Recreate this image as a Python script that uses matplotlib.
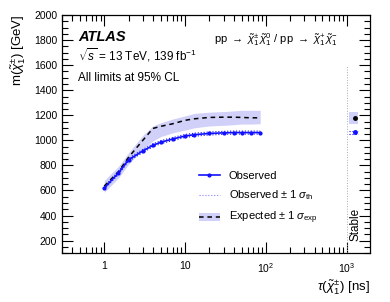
import numpy as np
import matplotlib
matplotlib.use('Agg')
import matplotlib.pyplot as plt
from matplotlib.lines import Line2D
from matplotlib.patches import Patch
from matplotlib.ticker import FixedLocator, FixedFormatter, LogLocator, MultipleLocator, NullFormatter

plt.rcParams['font.family'] = ['Liberation Sans', 'DejaVu Sans']
plt.rcParams['mathtext.fontset'] = 'custom'
plt.rcParams['mathtext.rm'] = 'Liberation Sans'
plt.rcParams['mathtext.it'] = 'Liberation Sans:italic'
plt.rcParams['mathtext.bf'] = 'Liberation Sans:bold'

# chargino lifetime [ns] and mass limits [GeV]
tau = [1, 1.5, 2, 3, 4, 5, 7, 10, 13, 20, 30, 40, 50, 65, 85]
observed = [620, 740, 845, 915, 960, 985, 1010, 1035, 1045, 1055, 1060, 1062, 1062, 1062, 1062]
expected = [635, 750, 865, 1000, 1095, 1112, 1132, 1160, 1172, 1183, 1185, 1185, 1183, 1180, 1180]
exp_up = [680, 792, 900, 1040, 1115, 1140, 1170, 1195, 1215, 1225, 1230, 1235, 1240, 1240, 1240]
exp_down = [585, 700, 810, 930, 995, 1030, 1060, 1082, 1100, 1115, 1120, 1125, 1130, 1130, 1133]
th_err = 12

# stable chargino point
stable_tau = 1250
stable_xlo, stable_xhi = 1070, 1400
stable_obs = 1066
stable_exp = 1178
stable_exp_up, stable_exp_down = 1226, 1133

band_color = '#d0d0f8'
blue = '#1010ff'

fig = plt.figure(figsize=(3.9, 3.02), dpi=100)
ax = fig.add_axes([0.159, 0.162, 0.79, 0.788])

tau = np.array(tau)
obs = np.array(observed)
ax.fill_between(tau, exp_down, exp_up, color=band_color, lw=0, zorder=1)
ax.plot(tau, expected, color='black', ls=(0, (3, 2.5)), lw=1.1, zorder=3)
ax.plot(tau, obs + th_err, color=blue, ls=':', lw=0.8, zorder=2)
ax.plot(tau, obs - th_err, color=blue, ls=':', lw=0.8, zorder=2)
ax.plot(tau, obs, color=blue, lw=1.2, marker='o', ms=2.0, zorder=4)

# stable
ax.fill_between([stable_xlo, stable_xhi], stable_exp_down, stable_exp_up, color=band_color, lw=0)
ax.plot(stable_tau, stable_exp, 'o', color='black', ms=2.5)
ax.plot(stable_tau, stable_obs, 'o', color=blue, ms=2.5)
ax.plot([stable_xlo, stable_xhi], [stable_obs + th_err] * 2, color=blue, ls=':', lw=0.8)
ax.plot([stable_xlo, stable_xhi], [stable_obs - th_err] * 2, color=blue, ls=':', lw=0.8)
ax.axvline(1000, ymin=0, ymax=0.79, color='#aaaaaa', ls=':', lw=0.7)
ax.text(1290, 330, 'Stable', rotation=90, ha='center', va='center', fontsize=8.5)

ax.set_xscale('log')
ax.set_xlim(0.3, 1950)
ax.set_ylim(100, 2000)
ax.xaxis.set_major_locator(FixedLocator([1, 10, 100, 1000]))
ax.xaxis.set_major_formatter(FixedFormatter(['1', '10', r'$10^2$', r'$10^3$']))
ax.xaxis.set_minor_locator(LogLocator(base=10, subs=np.arange(2, 10), numticks=20))
ax.xaxis.set_minor_formatter(NullFormatter())
ax.yaxis.set_minor_locator(MultipleLocator(50))
ax.set_yticks([200, 400, 600, 800, 1000, 1200, 1400, 1600, 1800, 2000])
ax.tick_params(which='both', direction='in', top=True, right=True, labelsize=7.5, width=0.8)
ax.tick_params(which='major', length=8)
ax.tick_params(which='minor', length=4)
ax.tick_params(axis='x', pad=6)
for s in ax.spines.values():
    s.set_linewidth(0.9)

ax.set_xlabel(r'$\tau(\tilde{\chi}_1^{\pm})$ [ns]', fontsize=9.5, loc='right', labelpad=2)
ax.set_ylabel(r'm($\tilde{\chi}_1^{\pm}$) [GeV]', fontsize=9.5, loc='top', labelpad=5)

ax.text(0.052, 0.908, 'ATLAS', transform=ax.transAxes, fontsize=10.5, fontweight='bold', style='italic', va='center')
ax.text(0.052, 0.832, r'$\sqrt{s}$ = 13 TeV, 139 fb$^{-1}$', transform=ax.transAxes, fontsize=8.5, va='center')
ax.text(0.052, 0.735, 'All limits at 95% CL', transform=ax.transAxes, fontsize=8.5, va='center')
ax.text(0.896, 0.895, r'pp $\rightarrow$ $\tilde{\chi}_1^{\pm}\,\tilde{\chi}_1^{0}$ / pp $\rightarrow$ $\tilde{\chi}_1^{+}\,\tilde{\chi}_1^{-}$',
        transform=ax.transAxes, fontsize=8, ha='right', va='center')

handles = [
    Line2D([], [], color=blue, lw=1.2, marker='o', ms=2.0),
    Line2D([], [], color='#8080ff', lw=0.8, ls=':'),
    (Patch(color=band_color, lw=0), Line2D([], [], color='black', ls=(0, (3, 2.5)), lw=1.1)),
]
labels = ['Observed', r'Observed $\pm$ 1 $\sigma_{\rm th}$', r'Expected $\pm$ 1 $\sigma_{\rm exp}$']
ax.legend(handles, labels, loc='upper left', bbox_to_anchor=(0.43, 0.365), frameon=False,
          fontsize=8, handlelength=1.9, labelspacing=0.7, handletextpad=0.8, borderaxespad=0)

fig.savefig('out.png', dpi=100)
